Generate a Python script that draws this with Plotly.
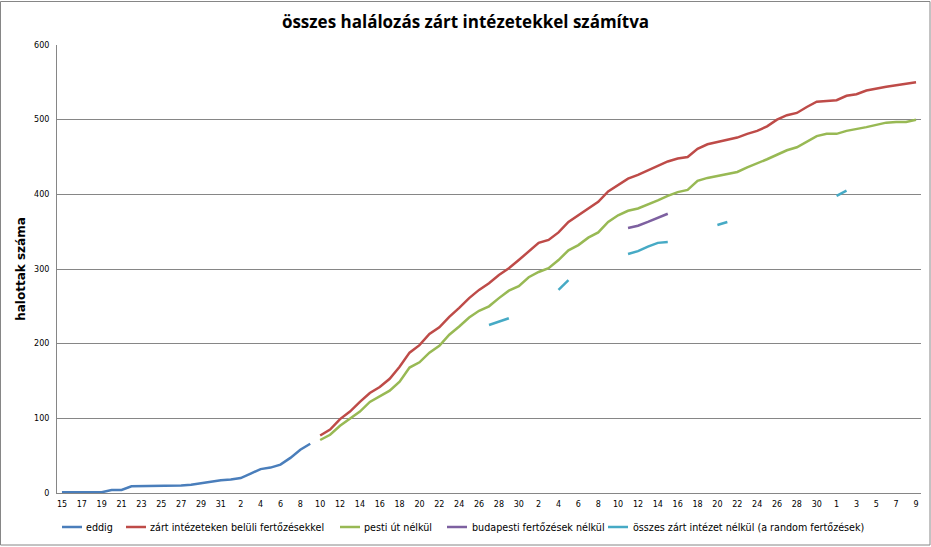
import pandas as pd
import plotly.graph_objects as go

# Day labels: every second day starting 15 March
tick_start = "2020-03-15"
axis_end = "2020-06-09"

eddig_start = "2020-03-15"
eddig = [1, 1, 1, 1, 1, 4, 4, 9, 9, 9, 10, 10, 10, 11, 13, 15, 17, 18, 20, 26,
         32, 34, 38, 47, 58, 66]

zart_start = "2020-04-10"
zart = [77, 85, 99, 109, 122, 134, 142, 153, 169, 188, 198, 213, 222, 236, 248,
        261, 272, 281, 292, 301, 312, 324, 335, 339, 349, 363, 372, 381, 390, 404,
        413, 421, 426, 432, 437, 444, 448, 450, 461, 467, 470, 473, 476, 481, 485,
        491, 500, 506, 509, 517, 524, 525, 526, 532, 534, 539, 542, 544, 546, 548,
        550]

pesti_start = "2020-04-10"
pesti = [71, 78, 90, 100, 109, 122, 130, 137, 149, 168, 175, 188, 197, 212, 223,
         235, 244, 250, 261, 271, 277, 289, 296, 301, 312, 325, 332, 342, 349, 363,
         372, 378, 381, 386, 392, 398, 403, 406, 418, 422, 425, 428, 430, 436, 441,
         447, 453, 459, 463, 471, 478, 481, 481, 485, 487, 490, 493, 496, 497, 497,
         500]

budapest_start = "2020-05-11"
budapest = [355, 358, 363, 369, 374]

random_start = "2020-04-27"
random_ = [225, 229, 234, None, None, None, None, 272, 285, None, None, None, None,
           None, 320, 324, 330, 335, 336, None, None, None, None, 359, 363, None,
           None, None, None, None, None, None, None, None, None, 398, 405]

series = [
    ("eddig", eddig_start, eddig, "#4A7EBB"),
    ("zárt intézeteken belüli fertőzésekkel", zart_start, zart, "#BE4B48"),
    ("pesti út nélkül", pesti_start, pesti, "#98B954"),
    ("budapesti fertőzések nélkül", budapest_start, budapest, "#7D60A0"),
    ("összes zárt intézet nélkül (a random fertőzések)", random_start, random_, "#46AAC5"),
]

# plot area geometry (pixels)
L, R, T, B = 57, 10, 45, 54
W, H = 931, 547
PW, PH = W - L - R, H - T - B

# legend key positions (pixels): line start, text start
legend_line_px = [62, 126, 340, 447, 608]
legend_text_px = [84, 148, 362, 470, 631]
legend_y_px = 527


def px_x(p):
    return (p - L) / PW


def px_y(p):
    return (T + PH - p) / PH


fig = go.Figure()
for name, start, vals, color in series:
    x = pd.date_range(start, periods=len(vals), freq="D")
    fig.add_trace(go.Scatter(x=x, y=vals, mode="lines", name=name,
                             line=dict(color=color, width=2.5),
                             connectgaps=False, showlegend=False))

# manual legend (Excel-style short keys)
for (name, _, _, color), lx, tx in zip(series, legend_line_px, legend_text_px):
    fig.add_shape(type="line", xref="paper", yref="paper",
                  x0=px_x(lx), x1=px_x(lx + 20), y0=px_y(legend_y_px), y1=px_y(legend_y_px),
                  line=dict(color=color, width=2.5))
    fig.add_annotation(xref="paper", yref="paper", x=px_x(tx), y=px_y(legend_y_px),
                       xanchor="left", yanchor="middle", text=name, showarrow=False,
                       font=dict(family="DejaVu Sans", size=9.6, color="black"))

t0 = pd.Timestamp(tick_start)
t1 = pd.Timestamp(axis_end)
half = pd.Timedelta(hours=12)

grid = "#868686"
fig.update_layout(
    width=W, height=H,
    margin=dict(l=L, r=R, t=T, b=B, autoexpand=False),
    paper_bgcolor="white", plot_bgcolor="white",
    showlegend=False,
    title=dict(text="<b>összes halálozás zárt intézetekkel számítva</b>",
               x=0.5, xanchor="center", y=1 - 22 / H, yanchor="middle",
               font=dict(family="Open Sans", size=17, color="black")),
    xaxis=dict(type="date", range=[t0 - half, t1 + half], automargin=False,
               tick0=t0, dtick=2 * 86400000, tickformat="%-d",
               showgrid=False, showline=True, linecolor=grid, linewidth=1,
               ticks="", ticklabelstandoff=3,
               tickfont=dict(family="DejaVu Sans", size=8, color="black"),
               zeroline=False),
    yaxis=dict(range=[0, 600], dtick=100, showgrid=True, gridcolor=grid,
               gridwidth=1, showline=True, linecolor=grid, linewidth=1,
               automargin=False,
               ticks="", ticklabelstandoff=5, zeroline=False,
               tickfont=dict(family="DejaVu Sans", size=8, color="black"),
               title=dict(text="<b>halottak száma</b>", standoff=5,
                          font=dict(family="DejaVu Sans", size=12, color="black"))),
)

fig.add_shape(type="rect", xref="paper", yref="paper",
              x0=px_x(0.5), x1=px_x(930),
              y0=px_y(545), y1=px_y(1.5),
              line=dict(color=grid, width=1), fillcolor="rgba(0,0,0,0)",
              layer="below")

fig.write_html("out.html",
               config={"displayModeBar": False},
               post_script="document.body.style.margin='0';"
                           "document.body.style.overflow='hidden';")
